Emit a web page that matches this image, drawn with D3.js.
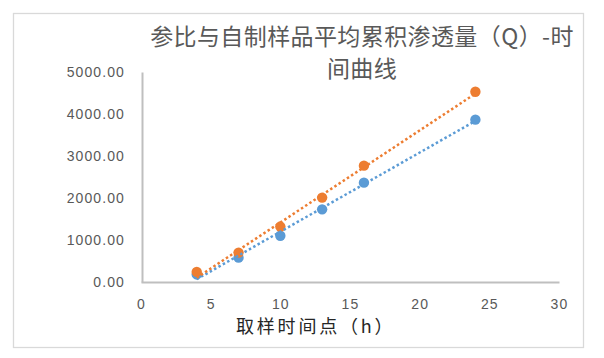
<!DOCTYPE html>
<html>
<head>
<meta charset="utf-8">
<script src="https://cdn.jsdelivr.net/npm/d3@7"></script>
<style>
  html, body { margin: 0; padding: 0; background: #fff; }
  svg { display: block; }
</style>
</head>
<body>
<svg id="chart" width="604" height="358"></svg>
<script>
// ---- data ----
const titleLines = ["参比与自制样品平均累积渗透量（Q）-时", "间曲线"];
const xAxisTitle = "取样时间点（h）";
const sampleTimes = [4, 7, 10, 13, 16, 24];
const seriesBlue = [180, 580, 1100, 1730, 2365, 3865];
const seriesOrange = [240, 700, 1320, 2010, 2770, 4530];
const xTicks = [0, 5, 10, 15, 20, 25, 30];
const yTicks = [0, 1000, 2000, 3000, 4000, 5000];

const colors = { blue: "#5B9BD5", orange: "#ED7D31" };

const svg = d3.select("#chart");
svg.append("rect").attr("x", 0).attr("y", 0).attr("width", 604).attr("height", 358).attr("fill", "#fff");
svg.append("rect").attr("x", 13.5).attr("y", 13.5).attr("width", 570).attr("height", 334)
  .attr("fill", "none").attr("stroke", "#d9d9d9").attr("stroke-width", 1.3);

const x = d3.scaleLinear().domain([0, 30]).range([141, 559]);
const y = d3.scaleLinear().domain([0, 5000]).range([282, 72]);

// title
const title = svg.append("text").attr("text-anchor", "middle")
  .attr("font-family", "'Noto Sans CJK SC', sans-serif").attr("font-size", 23)
  .attr("letter-spacing", "0.4px").attr("fill", "#595959");
titleLines.forEach((t, i) => {
  title.append("tspan").attr("x", 362).attr("y", 45 + i * 32).text(t);
});

// y axis
const yAxis = svg.append("g").attr("transform", `translate(${x(0) + 1},0)`)
  .call(d3.axisLeft(y).tickValues(yTicks).tickSize(0).tickPadding(17).tickFormat(d3.format(".2f")));
yAxis.select(".domain").attr("stroke", "#bfbfbf").attr("stroke-width", 2);
yAxis.selectAll("text").attr("font-family", "'Liberation Sans', Arial, sans-serif").attr("font-size", 14)
  .attr("letter-spacing", "1.1px").attr("fill", "#595959");

// x axis
const xAxis = svg.append("g").attr("transform", `translate(0,${y(0)})`)
  .call(d3.axisBottom(x).tickValues(xTicks).tickSize(0).tickPadding(17).tickFormat(d3.format("d")));
xAxis.select(".domain").attr("stroke", "#bfbfbf").attr("stroke-width", 2);
xAxis.selectAll("text").attr("font-family", "'Liberation Sans', Arial, sans-serif").attr("font-size", 14)
  .attr("letter-spacing", "1.1px").attr("fill", "#595959");

// x axis title
svg.append("text").attr("x", 236).attr("y", 333)
  .attr("font-family", "'Noto Sans CJK SC', sans-serif").attr("font-size", 18)
  .attr("letter-spacing", "2.8px").attr("fill", "#262626").text(xAxisTitle);

// markers
function drawMarkers(vals, color) {
  svg.append("g").selectAll("circle").data(sampleTimes.map((t, i) => [t, vals[i]]))
    .join("circle").attr("cx", d => x(d[0])).attr("cy", d => y(d[1])).attr("r", 5.2)
    .attr("fill", color);
}
drawMarkers(seriesBlue, colors.blue);
drawMarkers(seriesOrange, colors.orange);

// linear trendlines
function trend(vals, color) {
  const mx = d3.mean(sampleTimes), my = d3.mean(vals);
  let sxy = 0, sxx = 0;
  sampleTimes.forEach((t, i) => { sxy += (t - mx) * (vals[i] - my); sxx += (t - mx) * (t - mx); });
  const b = sxy / sxx, a = my - b * mx;
  const x0 = d3.min(sampleTimes), x1 = d3.max(sampleTimes);
  svg.append("line").attr("x1", x(x0)).attr("y1", y(a + b * x0)).attr("x2", x(x1)).attr("y2", y(a + b * x1))
    .attr("stroke", color).attr("stroke-width", 2.5).attr("stroke-dasharray", "2.5,2.5");
}
trend(seriesBlue, colors.blue);
trend(seriesOrange, colors.orange);
</script>
</body>
</html>
